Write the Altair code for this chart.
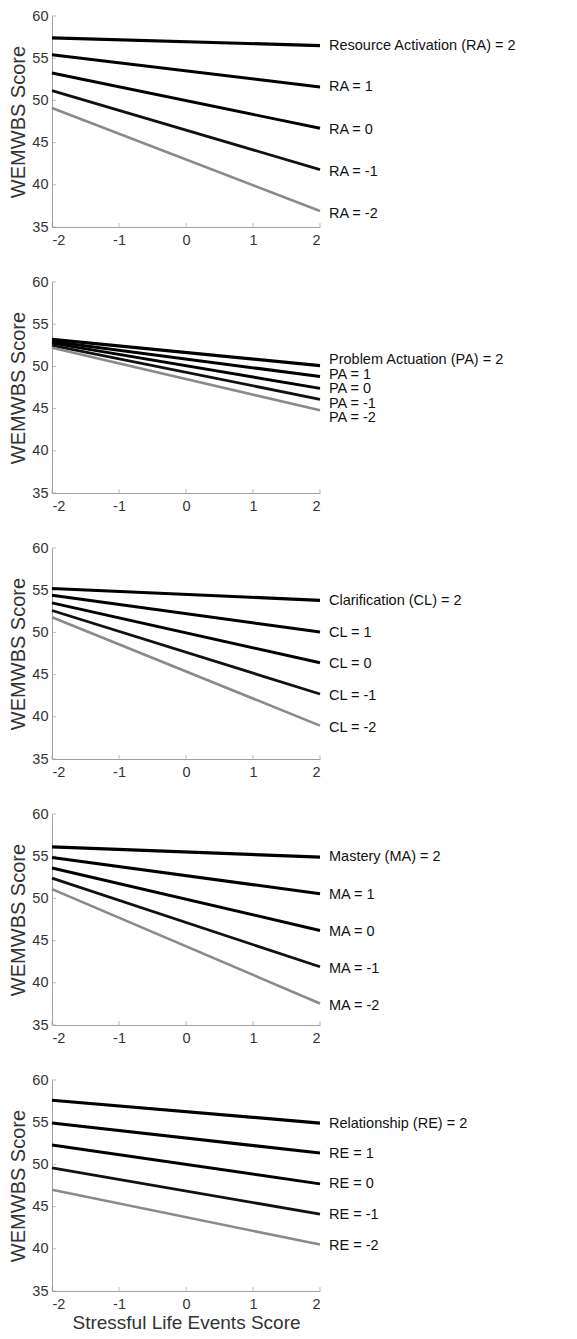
import altair as alt
import pandas as pd

# ---- data ----
x_start = -2
x_end = 2
levels = [2, 1, 0, -1, -2]

panel_names = ["RA", "PA", "CL", "MA", "RE"]
label_texts = {
    "RA": ["Resource Activation (RA) = 2", "RA = 1", "RA = 0", "RA = -1", "RA = -2"],
    "PA": ["Problem Actuation (PA) = 2", "PA = 1", "PA = 0", "PA = -1", "PA = -2"],
    "CL": ["Clarification (CL) = 2", "CL = 1", "CL = 0", "CL = -1", "CL = -2"],
    "MA": ["Mastery (MA) = 2", "MA = 1", "MA = 0", "MA = -1", "MA = -2"],
    "RE": ["Relationship (RE) = 2", "RE = 1", "RE = 0", "RE = -1", "RE = -2"],
}
# WEMWBS at SLE = -2 (left) and SLE = 2 (right), per level 2,1,0,-1,-2
left_vals = {
    "RA": [57.4, 55.4, 53.25, 51.15, 49.1],
    "PA": [53.2, 52.95, 52.75, 52.5, 52.2],
    "CL": [55.2, 54.4, 53.5, 52.6, 51.8],
    "MA": [56.1, 54.85, 53.6, 52.4, 51.1],
    "RE": [57.6, 54.9, 52.3, 49.6, 47.0],
}
right_vals = {
    "RA": [56.5, 51.6, 46.7, 41.8, 36.9],
    "PA": [50.1, 48.8, 47.4, 46.1, 44.8],
    "CL": [53.8, 50.05, 46.4, 42.7, 38.95],
    "MA": [54.9, 50.55, 46.2, 41.9, 37.55],
    "RE": [54.9, 51.35, 47.7, 44.1, 40.5],
}
label_y = {
    "RA": [56.43, 51.55, 46.5, 41.5, 36.5],
    "PA": [50.7, 49.0, 47.3, 45.6, 43.9],
    "CL": [53.68, 49.93, 46.26, 42.43, 38.67],
    "MA": [54.88, 50.43, 45.98, 41.65, 37.24],
    "RE": [54.82, 51.24, 47.62, 43.96, 40.33],
}
x_ticks = [-2, -1, 0, 1, 2]
y_ticks = [35, 40, 45, 50, 55, 60]
y_title = "WEMWBS Score"
x_title = "Stressful Life Events Score"

FONT = "Liberation Sans"
W, H = 268, 211

width_scale = alt.Scale(domain=levels, range=[3.2, 2.6, 2.2, 1.7, 0.7])
color_scale = alt.Scale(domain=levels, range=["#000000", "#000000", "#000000", "#111111", "#8a8a8a"])

x_scale = alt.Scale(domain=[-2, 2], nice=False, zero=False)
y_scale = alt.Scale(domain=[35, 60], nice=False, zero=False)


def panel(name, last):
    rows = []
    for lv, a, b in zip(levels, left_vals[name], right_vals[name]):
        rows.append({"level": lv, "sle": x_start, "wem": a})
        rows.append({"level": lv, "sle": x_end, "wem": b})
    df = pd.DataFrame(rows)
    lab = pd.DataFrame({"level": levels, "sle": [x_end] * 5, "wem": label_y[name],
                        "text": label_texts[name]})
    xt = pd.DataFrame({"t": x_ticks})
    yt = pd.DataFrame({"t": y_ticks})

    x_axis = alt.Axis(values=x_ticks, ticks=False, domainColor="#a0a0a0", labelColor="#333333",
                      labelFont=FONT, labelFontSize=14.5, labelPadding=6, grid=False,
                      labelExpr="'' + datum.value",
                      title=x_title if last else None, titleFont=FONT, titleFontSize=19,
                      titleFontWeight="normal", titleColor="#333333", titlePadding=3)
    y_axis = alt.Axis(values=y_ticks, ticks=False, domainColor="#a0a0a0", labelColor="#333333",
                      labelFont=FONT, labelFontSize=14.5, labelPadding=4, grid=False,
                      labelExpr="'' + datum.value",
                      title=y_title, titleFont=FONT, titleFontSize=20, titleFontWeight="normal",
                      titleColor="#333333", titlePadding=3)

    lines = alt.Chart(df).mark_line().encode(
        x=alt.X("sle:Q", scale=x_scale, axis=x_axis),
        y=alt.Y("wem:Q", scale=y_scale, axis=y_axis),
        detail="level:O",
        strokeWidth=alt.StrokeWidth("level:O", scale=width_scale, legend=None),
        color=alt.Color("level:O", scale=color_scale, legend=None),
    )
    labels = alt.Chart(lab).mark_text(align="left", baseline="middle", dx=9, font=FONT,
                                      fontSize=14.5, color="#111111").encode(
        x=alt.X("sle:Q", scale=x_scale),
        y=alt.Y("wem:Q", scale=y_scale),
        text="text:N",
    )
    xtk = alt.Chart(xt).mark_tick(orient="vertical", size=4, yOffset=-2, color="#a0a0a0",
                                  thickness=1).encode(
        x=alt.X("t:Q", scale=x_scale), y=alt.datum(35, scale=y_scale))
    ytk = alt.Chart(yt).mark_tick(orient="horizontal", size=4, xOffset=2, color="#a0a0a0",
                                  thickness=1).encode(
        y=alt.Y("t:Q", scale=y_scale), x=alt.datum(-2, scale=x_scale))
    return alt.layer(xtk, ytk, lines, labels).properties(width=W, height=H)


charts = [panel(n, i == len(panel_names) - 1) for i, n in enumerate(panel_names)]
chart = alt.vconcat(*charts, spacing=55, bounds="flush").properties(
    padding={"left": 0, "top": 0, "right": 5, "bottom": 0}
).configure_view(stroke=None)

chart.save("out.html", embed_options={"renderer": "svg", "actions": False})
